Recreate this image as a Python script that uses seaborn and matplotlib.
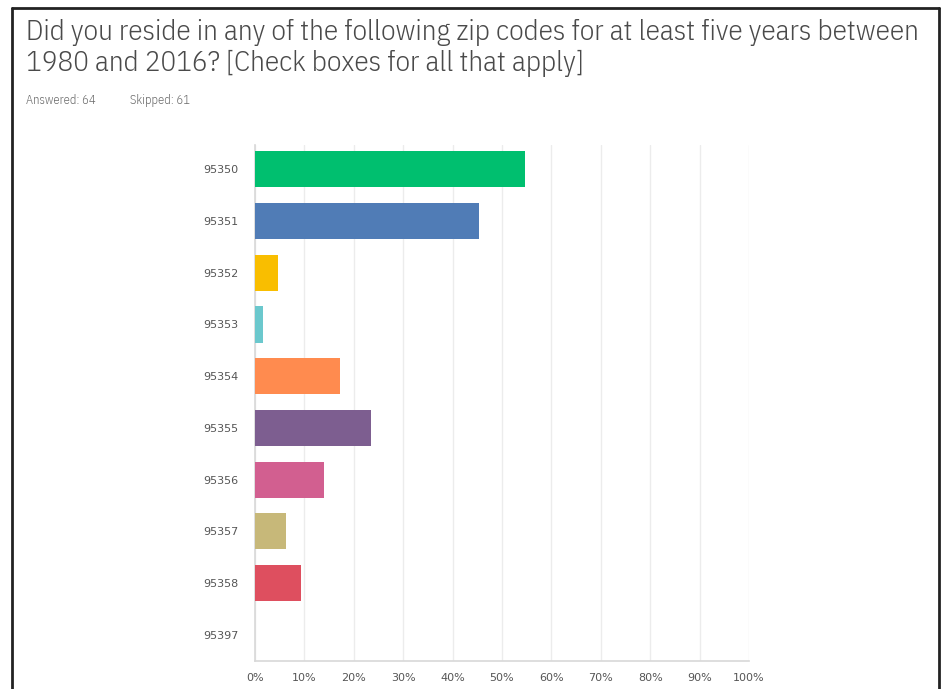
import numpy as np
import pandas as pd
import seaborn as sns
import matplotlib.pyplot as plt
from matplotlib.lines import Line2D

# Data ----------------------------------------------------------------------
zip_codes = ["95350", "95351", "95352", "95353", "95354",
             "95355", "95356", "95357", "95358", "95397"]
pct_responses = [54.69, 45.31, 4.69, 1.56, 17.19, 23.44, 14.06, 6.25, 9.38, 0.0]
bar_colors = ["#00BF6F", "#507CB6", "#F9BE00", "#6BC8CD", "#FF8B4F",
              "#7D5E90", "#D25F90", "#C7B879", "#DE4F5F", "#999999"]
x_ticks = list(range(0, 101, 10))
x_tick_labels = [f"{t}%" for t in x_ticks]

title_lines = ["Did you reside in any of the following zip codes for at least five years between",
               "1980 and 2016? [Check boxes for all that apply]"]
answered = "Answered: 64"
skipped = "Skipped: 61"

df = pd.DataFrame({"zip": zip_codes, "pct": pct_responses})

# Figure --------------------------------------------------------------------
sns.set_style("white")
plt.rcParams["font.family"] = ["DejaVu Sans"]
condensed = dict(family=["IBM Plex Sans Condensed", "DejaVu Sans"],
                 stretch="condensed", weight=300)

fig = plt.figure(figsize=(9.41, 6.89), dpi=100)
ax = fig.add_axes([255 / 941, 1 - 660.7 / 689, 494 / 941, (660.7 - 145) / 689])

sns.barplot(data=df, x="pct", y="zip", hue="zip", palette=bar_colors,
            legend=False, width=0.7, orient="h", ax=ax, zorder=3,
            saturation=1, linewidth=0)

ax.set_xlim(0, 100)
ax.set_ylim(9.5, -0.47)
ax.set_xticks(x_ticks)
ax.set_xticklabels(x_tick_labels)
ax.set_xlabel("")
ax.set_ylabel("")
ax.grid(axis="x", color="#ececec", linewidth=1, zorder=0)
ax.grid(axis="y", visible=False)
for side in ["top", "right"]:
    ax.spines[side].set_visible(False)
for side in ["left", "bottom"]:
    ax.spines[side].set_color("#d8d8d8")
    ax.spines[side].set_linewidth(1.2)
ax.tick_params(axis="both", length=0, labelsize=8, labelcolor="#555555")
ax.tick_params(axis="y", pad=12)
ax.tick_params(axis="x", pad=9)

# header text
for line, base_y in zip(title_lines, [40, 71]):
    fig.text(26 / 941, 1 - base_y / 689, line, ha="left", va="baseline",
             fontsize=21, color="#4a4a4a", **condensed)
fig.text(26 / 941, 1 - 104 / 689, answered, ha="left", va="baseline",
         fontsize=9, color="#6a6a6a", **condensed)
fig.text(130 / 941, 1 - 104 / 689, skipped, ha="left", va="baseline",
         fontsize=9, color="#6a6a6a", **condensed)

# screenshot frame
frame_kw = dict(color="#222222", linewidth=2, transform=fig.transFigure)
fig.add_artist(Line2D([12 / 941, 12 / 941], [0, 1 - 8 / 689], **frame_kw))
fig.add_artist(Line2D([12 / 941, 939 / 941], [1 - 8 / 689, 1 - 8 / 689], **frame_kw))
fig.add_artist(Line2D([939 / 941, 939 / 941], [0, 1 - 8 / 689], **frame_kw))

fig.savefig("out.png", dpi=100)
